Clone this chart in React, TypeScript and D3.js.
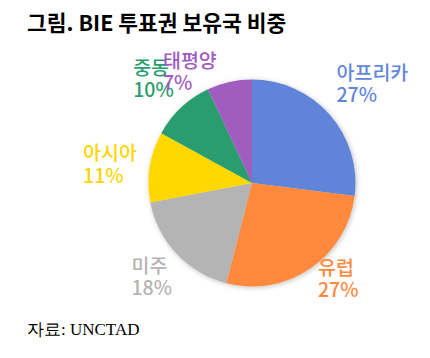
import React from "react";
import * as d3 from "d3";

const categories = ["아프리카", "유럽", "미주", "아시아", "중동", "태평양"];
const values = [27, 27, 18, 11, 10, 7];
const colors = ["#6184D8", "#FF8A3D", "#B4B4B4", "#FFD800", "#2A9D6E", "#A05CBF"];
const labelColors = ["#6487D8", "#FF8A3D", "#B4B4B4", "#FFD500", "#2A9D6E", "#A05CBF"];

const W = 430;
const H = 358;
const cx = 252;
const cy = 183;
const R = 103.5;
const labelR = 140;
// layout nudges (left/baseline of first label line relative to label-arc centroid)
const nudges: [number, number][] = [
  [-20.5, -10.5],
  [-12.7, -23.8],
  [-18.5, -6],
  [-30.7, -1.1],
  [-23, -6],
  [-58.5, 21.6],
];

export default function App() {
  const data = categories.map((c, i) => ({ name: c, value: values[i], i }));
  const pie = d3
    .pie<any>()
    .sort(null)
    .value((d) => d.value)
    .startAngle(0)
    .endAngle(2 * Math.PI);
  const arcs = pie(data);
  const arc = d3.arc<any>().innerRadius(0).outerRadius(R);
  const labelArc = d3.arc<any>().innerRadius(labelR).outerRadius(labelR);
  const font = "'Noto Sans CJK KR', 'Noto Sans', sans-serif";
  return (
    <svg
      width={W}
      height={H}
      style={{ position: "absolute", left: 0, top: 0, background: "#fff" }}
    >
      <defs>
        <filter id="sh" x="-20%" y="-20%" width="140%" height="140%">
          <feDropShadow dx="1" dy="1" stdDeviation="2.5" floodColor="#000" floodOpacity="0.25" />
        </filter>
      </defs>
      <text x={27} y={31} fontFamily={font} fontWeight={700} fontSize={21.5} fill="#000">
        그림. BIE 투표권 보유국 비중
      </text>
      <g transform={`translate(${cx},${cy})`} filter="url(#sh)">
        {arcs.map((a, i) => (
          <path key={i} d={arc(a) || ""} fill={colors[i]} />
        ))}
      </g>
      <g transform={`translate(${cx},${cy})`}>
        {arcs.map((a, i) => {
          const [x, y] = labelArc.centroid(a);
          const lx = x + nudges[i][0];
          const ly = y + nudges[i][1];
          return (
            <text key={i} fontFamily={font} fontWeight={500} fontSize={19.5} fill={labelColors[i]}>
              <tspan x={lx} y={ly}>{a.data.name}</tspan>
              <tspan x={lx} y={ly + 22.5}>{`${a.data.value}%`}</tspan>
            </text>
          );
        })}
      </g>
      <text x={27} y={335} fontFamily="'Liberation Serif', 'DejaVu Serif', serif" fontSize={17} fill="#000">
        자료: UNCTAD
      </text>
    </svg>
  );
}
